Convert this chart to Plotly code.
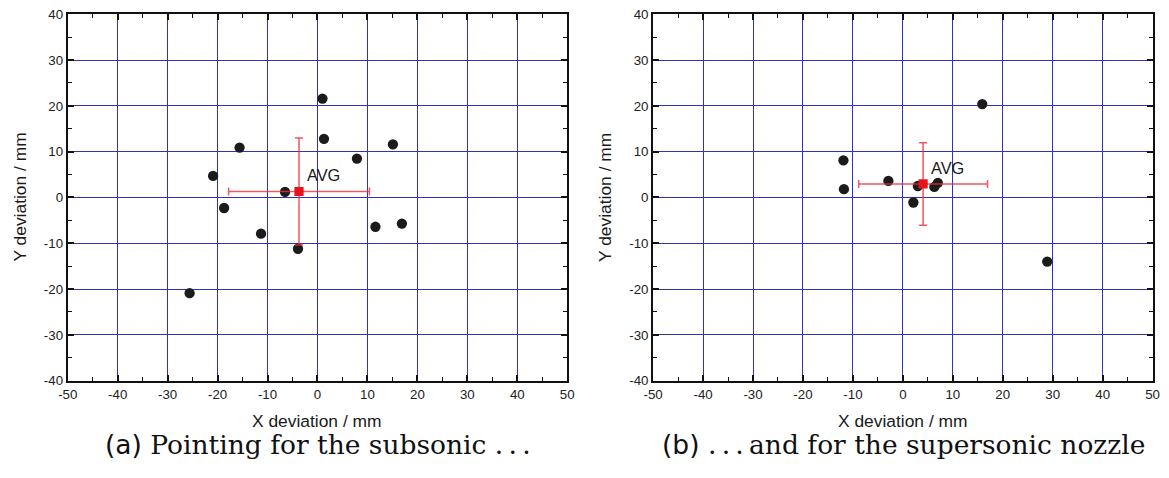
import plotly.graph_objects as go

# Pointing deviations of the individual shots (mm)
sub_x = [1.0, 1.3, -15.6, 15.1, 7.9, -20.9, -6.5, -18.7, -11.3, -3.9, 11.6, 16.9, -25.6]
sub_y = [21.6, 12.8, 10.9, 11.6, 8.5, 4.7, 1.2, -2.3, -7.9, -11.2, -6.4, -5.7, -20.9]

sup_x = [15.9, -11.9, -11.8, -2.9, 3.0, 2.1, 6.3, 7.0, 28.9]
sup_y = [20.4, 8.1, 1.8, 3.6, 2.5, -1.1, 2.3, 3.2, -14.0]

# Average position and spread (mm)
sub_avg_x, sub_avg_y = -3.7, 1.3
sub_err_x, sub_err_y = 14.1, 11.7
sup_avg_x, sup_avg_y = 4.05, 2.95
sup_err_x, sup_err_y = 12.9, 9.0

x_ticks = [-50, -40, -30, -20, -10, 0, 10, 20, 30, 40, 50]
x_tick_text = ["-50", "-40", "-30", "-20", "-10", "0", "10", "20", "30", "40", "50"]
y_ticks = [-40, -30, -20, -10, 0, 10, 20, 30, 40]
y_tick_text = ["-40", "-30", "-20", "-10", "0", "10", "20", "30", "40"]

captions = [
    '<span style="font-family:\'DejaVu Sans\'">(a)</span> Pointing for the subsonic .\u2009.\u2009.',
    '<span style="font-family:\'DejaVu Sans\'">(b)</span> .\u2009.\u2009.\u2009and for the supersonic nozzle',
]

W, H = 1169, 478
# The page body keeps an 8 px margin around the figure; layout positions
# below are given for the whole page and converted to figure pixels here.
PAD = 8
KX = (W + 2 * PAD) / W
KY = (H + 2 * PAD) / H
FS = (KX + KY) / 2  # font size compensation


def px_x(v):
    return (v * KX - PAD) / W


def px_y(v):
    return 1 - (v * KY - PAD) / H


GRID = "#3232b8"
DOT = "#1b1b1b"
RED = "#e8131d"
RED_BAR = "rgba(236,45,55,0.8)"
SANS = "Liberation Sans, Arial, sans-serif"

fig = go.Figure()

panels = [
    ("x", "y", sub_x, sub_y, sub_avg_x, sub_avg_y, sub_err_x, sub_err_y),
    ("x2", "y2", sup_x, sup_y, sup_avg_x, sup_avg_y, sup_err_x, sup_err_y),
]

for xa, ya, px, py, ax, ay, ex, ey in panels:
    fig.add_trace(go.Scatter(
        x=px, y=py, mode="markers", xaxis=xa, yaxis=ya,
        marker=dict(size=10.3, color=DOT, line=dict(width=0)),
        showlegend=False, hoverinfo="x+y",
    ))
    fig.add_trace(go.Scatter(
        x=[ax], y=[ay], mode="markers", xaxis=xa, yaxis=ya,
        marker=dict(size=9.2, color=RED, symbol="square", line=dict(width=0)),
        error_x=dict(type="data", array=[ex], color=RED_BAR, thickness=1.5, width=4),
        error_y=dict(type="data", array=[ey], color=RED_BAR, thickness=1.5, width=4),
        showlegend=False, hoverinfo="x+y",
    ))
    fig.add_annotation(
        x=ax + 1.2, y=ay + 3.5, xref=xa, yref=ya, text="AVG", showarrow=False,
        xanchor="left", yanchor="middle",
        font=dict(family=SANS, size=16 * FS, color="#1a1a1a"),
    )

x_domains = [[px_x(65.7), px_x(565.7)], [px_x(651.7), px_x(1151.7)]]
y_domain = [px_y(381), px_y(15)]

axis_common = dict(
    showline=True, linecolor="#111111", linewidth=2, mirror="ticks",
    ticks="inside", ticklen=6, tickwidth=1.5, tickcolor="#111111",
    minor=dict(ticks="inside", ticklen=4, tickwidth=1.2, tickcolor="#111111", dtick=5, showgrid=False),
    showgrid=True, gridcolor=GRID, gridwidth=1, zeroline=False,
    tickfont=dict(family=SANS, size=13 * FS, color="#222222"),
    fixedrange=True,
)

fig.update_layout(
    xaxis=dict(domain=x_domains[0], range=[-50, 50], tickvals=x_ticks, ticktext=x_tick_text,
               anchor="y", **axis_common),
    yaxis=dict(domain=y_domain, range=[-40, 40], tickvals=y_ticks, ticktext=y_tick_text,
               anchor="x", **axis_common),
    xaxis2=dict(domain=x_domains[1], range=[-50, 50], tickvals=x_ticks, ticktext=x_tick_text,
                anchor="y2", **axis_common),
    yaxis2=dict(domain=y_domain, range=[-40, 40], tickvals=y_ticks, ticktext=y_tick_text,
                anchor="x2", **axis_common),
    width=W, height=H,
    margin=dict(l=0, r=0, t=0, b=0),
    paper_bgcolor="white", plot_bgcolor="white",
)

title_font = dict(family=SANS, size=17 * FS, color="#1a1a1a")
caption_centres = [316, 902]
y_title_x = [18, 604]
for i, dom in enumerate(x_domains):
    cx = (dom[0] + dom[1]) / 2
    # x-axis title
    fig.add_annotation(x=cx, y=px_y(421), xref="paper", yref="paper",
                       text="X deviation / mm", showarrow=False,
                       xanchor="center", yanchor="middle", font=title_font)
    # y-axis title
    fig.add_annotation(x=px_x(y_title_x[i]), y=px_y(198), xref="paper", yref="paper",
                       text="Y deviation / mm", showarrow=False, textangle=-90,
                       xanchor="center", yanchor="middle", font=title_font)
    # caption
    fig.add_annotation(x=px_x(caption_centres[i]), y=px_y(445), xref="paper", yref="paper",
                       text=captions[i], showarrow=False,
                       xanchor="center", yanchor="middle",
                       font=dict(family="DejaVu Serif, serif", size=26.5, color="#111111"))

fig.write_html("out.html")
